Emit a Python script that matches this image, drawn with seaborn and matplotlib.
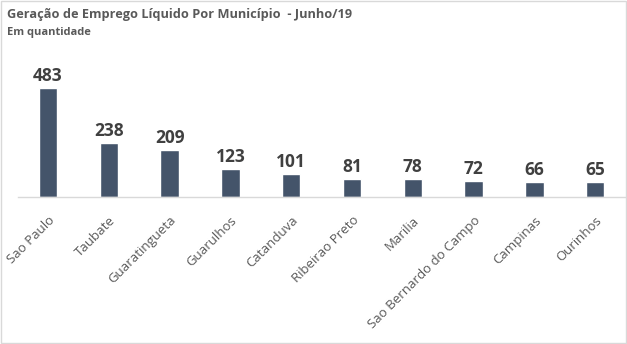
import matplotlib
matplotlib.use("Agg")
import matplotlib.pyplot as plt
import seaborn as sns
import pandas as pd

municipios = ["Sao Paulo", "Taubate", "Guaratingueta", "Guarulhos", "Catanduva",
              "Ribeirao Preto", "Marilia", "Sao Bernardo do Campo", "Campinas", "Ourinhos"]
empregos = [483, 238, 209, 123, 101, 81, 78, 72, 66, 65]

sns.set_theme(style="white")
plt.rcParams['font.family'] = ['Open Sans', 'DejaVu Sans']

df = pd.DataFrame({"municipio": municipios, "empregos": empregos})

fig = plt.figure(figsize=(6.27, 3.44), dpi=100)
ax = fig.add_axes([17.6/627, 1-197/344, 608/627, 136/344])
sns.barplot(data=df, x="municipio", y="empregos", color="#44546A", width=0.3,
            saturation=1, ax=ax)
ax.set_ylim(0, 603)
ax.set_xlim(-0.5, 9.5)
for i, v in enumerate(empregos):
    ax.text(i, v + 14, str(v), ha="center", va="bottom", fontsize=12.5,
            fontweight="bold", color="#404040")
for s in ["top", "right", "left"]:
    ax.spines[s].set_visible(False)
ax.spines["bottom"].set_color("#D9D9D9")
ax.spines["bottom"].set_linewidth(1)
ax.set_yticks([])
ax.set_xlabel("")
ax.set_ylabel("")
ax.tick_params(axis="x", length=0, pad=12)
for lbl in ax.get_xticklabels():
    lbl.set_rotation(45)
    lbl.set_ha("right")
    lbl.set_rotation_mode("anchor")
    lbl.set_fontsize(9.5)
    lbl.set_color("#595959")

fig.text(7/627, 1-18/344, "Geração de Emprego Líquido Por Município  - Junho/19",
         fontsize=9.2, fontweight="bold", color="#595959", va="baseline")
fig.text(7/627, 1-35/344, "Em quantidade", fontsize=8, fontweight="bold",
         color="#595959", va="baseline")
fig.patches.append(plt.Rectangle((0.001, 0.002), 0.997, 0.995, transform=fig.transFigure,
                                 fill=False, edgecolor="#D9D9D9", linewidth=1))
fig.savefig("out.png", dpi=100)
